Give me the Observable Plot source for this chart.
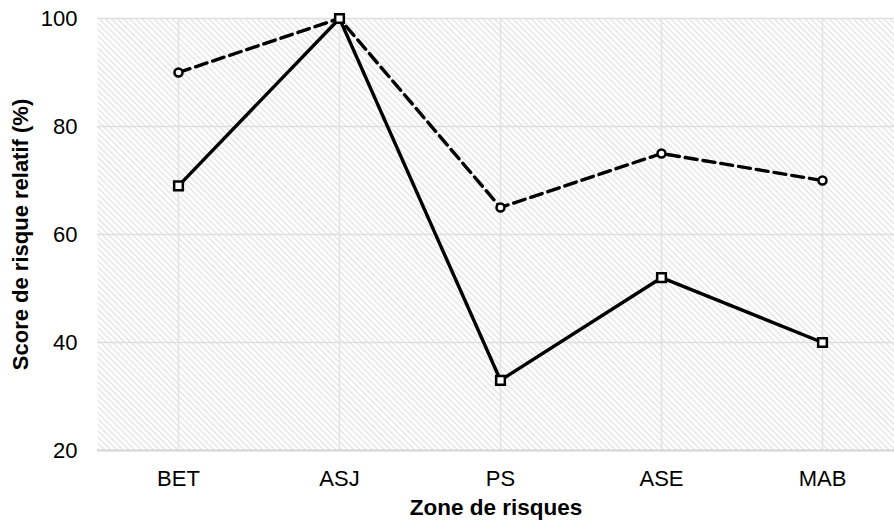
<!DOCTYPE html>
<html>
<head>
<meta charset="utf-8">
<script src="https://cdn.jsdelivr.net/npm/d3@7"></script>
<script src="https://cdn.jsdelivr.net/npm/@observablehq/plot@0.6"></script>
<style>
  html, body { margin: 0; padding: 0; background: #fff; overflow: hidden; }
  #chart { width: 894px; height: 523px; position: relative; }
</style>
</head>
<body>
<div id="chart"></div>
<script>
const zones = ["BET", "ASJ", "PS", "ASE", "MAB"];
const seriesDashed = [90, 100, 65, 75, 70];
const seriesSolid = [69, 100, 33, 52, 40];
const yTicks = [20, 40, 60, 80, 100];
const xTitle = "Zone de risques";
const yTitle = "Score de risque relatif (%)";

const dashedData = zones.map((z, i) => ({zone: z, value: seriesDashed[i]}));
const solidData = zones.map((z, i) => ({zone: z, value: seriesSolid[i]}));

const font = "'Liberation Sans', Arial, Helvetica, sans-serif";

const plot = Plot.plot({
  width: 894,
  height: 523,
  marginLeft: 97,
  marginRight: 0,
  marginTop: 18,
  marginBottom: 73,
  style: {fontFamily: font, fontSize: "22px", color: "#000", background: "#fff", overflow: "visible"},
  x: {type: "point", domain: zones, range: [177.5, 821.5], padding: 0},
  y: {domain: [20, 100]},
  marks: [
    Plot.frame({fill: "url(#hatch)", stroke: "none"}),
    Plot.ruleX(zones, {x: d => d, y1: 20, y2: 100, stroke: "#e2e2e2", strokeWidth: 1.5}),
    Plot.ruleY([40, 60, 80, 100], {stroke: "#dedede", strokeWidth: 1.5}),
    Plot.ruleY([20], {stroke: "#d4d4d4", strokeWidth: 2}),
    Plot.axisY({ticks: yTicks, tickSize: 0, tickPadding: 20, label: null, fontSize: 22}),
    Plot.axisX({tickSize: 0, tickPadding: 20, label: null, fontSize: 22}),
    Plot.text([yTitle], {frameAnchor: "left", dx: -77, rotate: -90, textAnchor: "middle", fontWeight: "bold", fontSize: 22}),
    Plot.text([xTitle], {frameAnchor: "bottom", dy: 64, textAnchor: "middle", fontWeight: "bold", fontSize: 22.5}),
    Plot.line(dashedData, {x: "zone", y: "value", stroke: "#000", strokeWidth: 3.4, strokeDasharray: "12,6"}),
    Plot.line(solidData, {x: "zone", y: "value", stroke: "#000", strokeWidth: 3.4}),
    Plot.dot(dashedData, {x: "zone", y: "value", r: 4, fill: "#fff", stroke: "#000", strokeWidth: 2.5, symbol: "circle"}),
    Plot.dot(solidData, {x: "zone", y: "value", r: 4.9, fill: "#fff", stroke: "#000", strokeWidth: 2.5, symbol: "square"})
  ]
});

// hatch pattern definition
const svg = d3.select(plot);
const defs = svg.insert("defs", ":first-child");
const pat = defs.append("pattern")
  .attr("id", "hatch")
  .attr("patternUnits", "userSpaceOnUse")
  .attr("width", 4.3)
  .attr("height", 10)
  .attr("patternTransform", "rotate(-45)");
pat.append("rect").attr("width", 4.3).attr("height", 10).attr("fill", "#fff");
pat.append("line").attr("x1", 1).attr("y1", 0).attr("x2", 1).attr("y2", 10)
  .attr("stroke", "#e0e0e0").attr("stroke-width", 1.2);

document.getElementById("chart").appendChild(plot);
</script>
</body>
</html>
